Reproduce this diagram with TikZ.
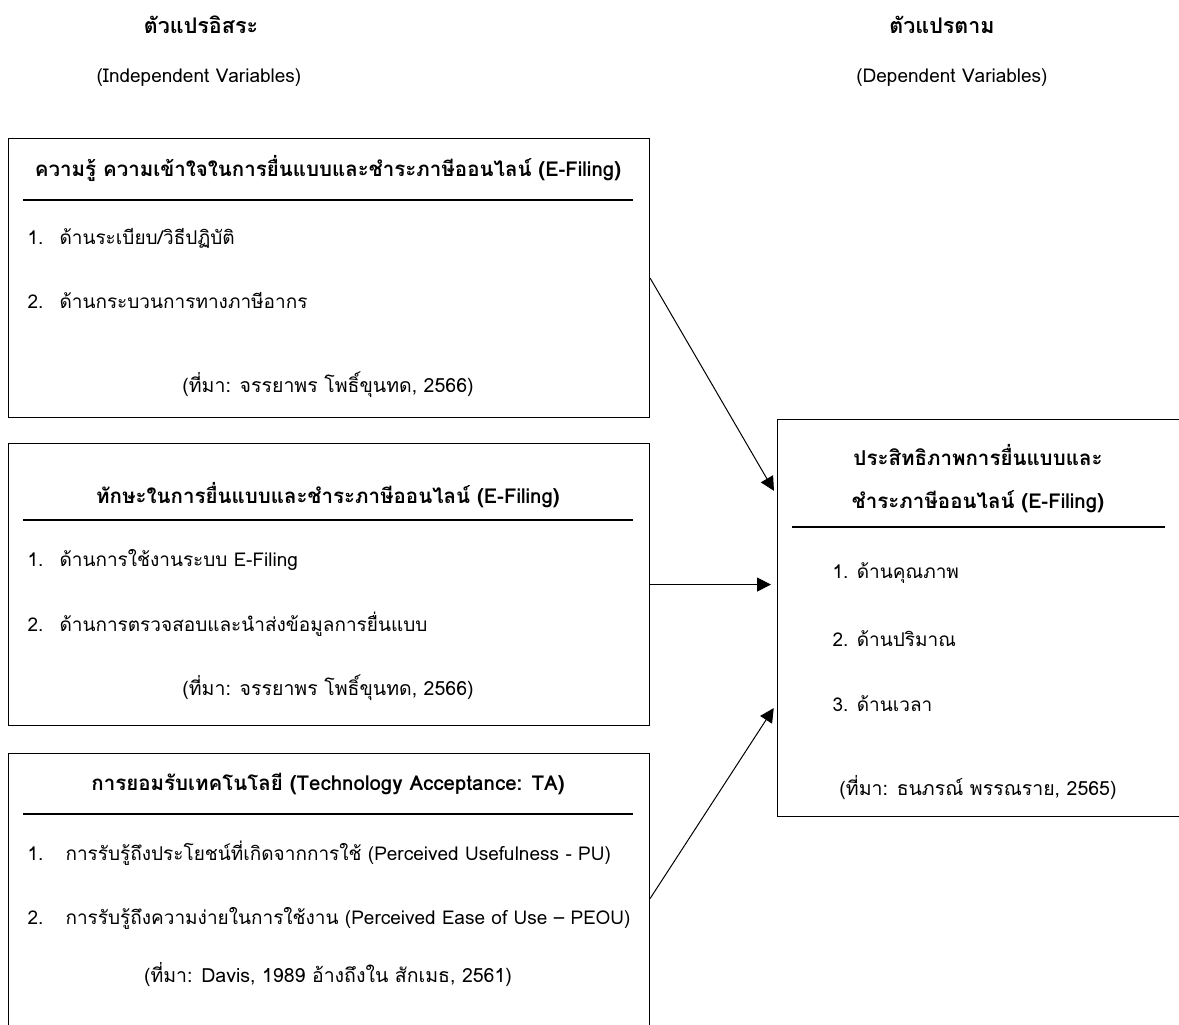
\documentclass[tikz,border=0pt]{standalone}
\usepackage{fontspec}
\setmainfont[Script=Thai]{Loma}
\usetikzlibrary{arrows.meta}

\tikzset{
  varbox/.style={draw, line width=1.1pt, anchor=north west, inner sep=0pt},
  headtxt/.style={font=\fontsize{21.5}{25}\selectfont\bfseries},
  subtxt/.style={font=\fontsize{19}{22}\selectfont},
  titletxt/.style={font=\fontsize{20.5}{24}\selectfont\bfseries},
  itemtxt/.style={anchor=west, font=\fontsize{19}{23}\selectfont},
  srctxt/.style={font=\fontsize{19.5}{23}\selectfont},
  link/.style={line width=1pt, shorten >=6pt, -{Triangle[length=14pt,width=14pt]}}
}
\newcommand{\numcol}[2]{\makebox[#1][l]{#2}}

\begin{document}
\begin{tikzpicture}[x=1pt,y=-1pt]
\useasboundingbox (0,0) rectangle (1179,1025);
\clip (0,0) rectangle (1179,1025);

\node[headtxt] (indep) at (201,25) {ตัวแปรอิสระ};
\node[subtxt] (indepen) at (199,78) {(Independent Variables)};
\node[headtxt] (dep) at (942,25) {ตัวแปรตาม};
\node[subtxt] (depen) at (952,78) {(Dependent Variables)};

% independent variables
\node[varbox, minimum width=641pt, minimum height=279pt] (know) at (8,138) {};
\node[titletxt] (knowtitle) at (328,168) {ความรู้ ความเข้าใจในการยื่นแบบและชำระภาษีออนไลน์ (E-Filing)};
\draw[line width=1.1pt] (23,200) -- (633,200);
\node[itemtxt] (know1) at (24,238) {\numcol{32pt}{1.}ด้านระเบียบ/วิธีปฏิบัติ};
\node[itemtxt] (know2) at (24,300) {\numcol{32pt}{2.}ด้านกระบวนการทางภาษีอากร};
\node[srctxt] (knowsrc) at (328,385) {(ที่มา: จรรยาพร โพธิ์ขุนทด, 2566)};

\node[varbox, minimum width=641pt, minimum height=282pt] (skill) at (8,443) {};
\node[titletxt] (skilltitle) at (328,495) {ทักษะในการยื่นแบบและชำระภาษีออนไลน์ (E-Filing)};
\draw[line width=1.1pt] (23,520) -- (633,520);
\node[itemtxt] (skill1) at (24,560) {\numcol{32pt}{1.}ด้านการใช้งานระบบ E-Filing};
\node[itemtxt] (skill2) at (24,624) {\numcol{32pt}{2.}ด้านการตรวจสอบและนำส่งข้อมูลการยื่นแบบ};
\node[srctxt] (skillsrc) at (328,688) {(ที่มา: จรรยาพร โพธิ์ขุนทด, 2566)};

\node[varbox, minimum width=641pt, minimum height=290pt] (accept) at (8,753) {};
\node[titletxt] (accepttitle) at (328,784) {การยอมรับเทคโนโลยี (Technology Acceptance: TA)};
\draw[line width=1.1pt] (23,814) -- (633,814);
\node[itemtxt] (accept1) at (24,853) {\numcol{38pt}{1.}การรับรู้ถึงประโยชน์ที่เกิดจากการใช้ (Perceived Usefulness - PU)};
\node[itemtxt] (accept2) at (24,918) {\numcol{38pt}{2.}การรับรู้ถึงความง่ายในการใช้งาน (Perceived Ease of Use – PEOU)};
\node[srctxt] (acceptsrc) at (328,975) {(ที่มา: Davis, 1989 อ้างถึงใน สักเมธ, 2561)};

% dependent variable
\node[varbox, minimum width=403pt, minimum height=397pt] (eff) at (777,419) {};
\node[titletxt] (efftitle1) at (978,455) {ประสิทธิภาพการยื่นแบบและ};
\node[titletxt] (efftitle2) at (978,502) {ชำระภาษีออนไลน์ (E-Filing)};
\draw[line width=1.1pt] (792,527) -- (1165,527);
\node[itemtxt] (eff1) at (829,573) {1. ด้านคุณภาพ};
\node[itemtxt] (eff2) at (829,639) {2. ด้านปริมาณ};
\node[itemtxt] (eff3) at (829,704) {3. ด้านเวลา};
\node[srctxt] (effsrc) at (978,788) {(ที่มา: ธนภรณ์ พรรณราย, 2565)};

\coordinate (in1) at ([yshift=122pt]eff.west);
\coordinate (in3) at ([yshift=-85pt]eff.west);

\draw[link] (know.east) -- (in1);
\draw[link] (skill.east) -- (skill.east -| eff.west);
\draw[link] (accept.east) -- (in3);

\end{tikzpicture}
\end{document}
